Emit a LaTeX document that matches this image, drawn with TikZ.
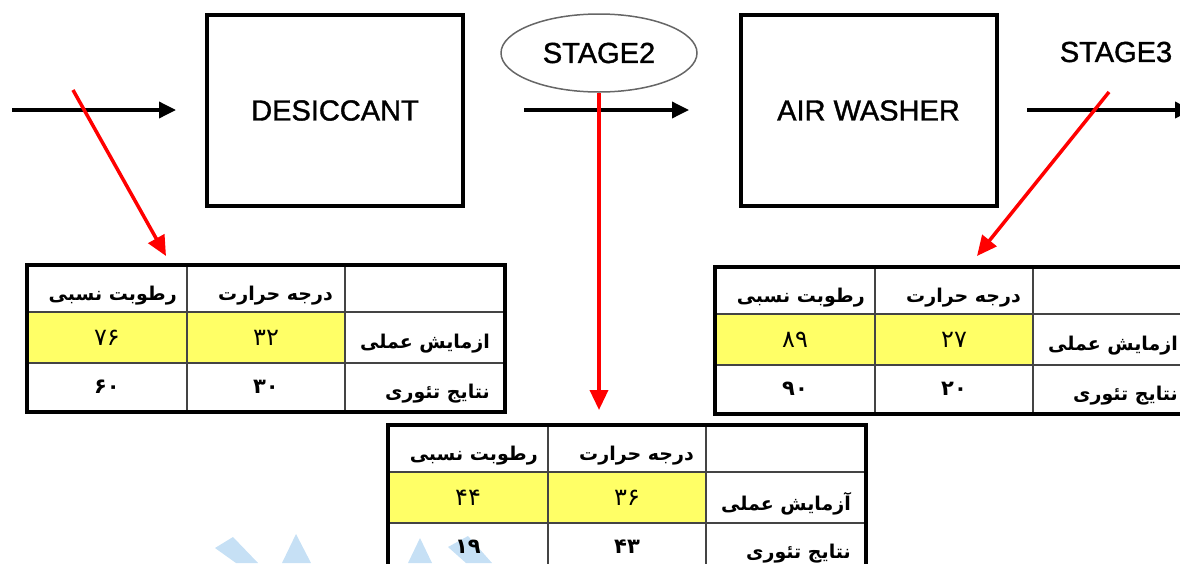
\documentclass[tikz,border=0pt]{standalone}
\usepackage{fontspec}
\setmainfont{Liberation Sans}
\newfontfamily\lblfont[FakeBold=1.3]{Liberation Sans}
\newfontfamily\arabicfont[Script=Arabic]{DejaVu Sans}
\TeXXeTstate=1
\usetikzlibrary{arrows.meta,shapes.geometric}
\definecolor{cellyellow}{HTML}{FFFF66}
\definecolor{wmblue}{HTML}{C6E0F5}
\definecolor{gridgray}{HTML}{444444}
\tikzset{
  procbox/.style={draw, line width=4pt, minimum width=256pt, minimum height=191pt, inner sep=0pt, font=\lblfont\fontsize{29}{32}\selectfont},
  stagelbl/.style={font=\lblfont\fontsize{29}{32}\selectfont, inner sep=0pt},
  flow/.style={line width=3.5pt, -{Triangle[length=17pt,width=16pt]}},
  probe/.style={red, line width=3.5pt, -{Triangle[length=20pt,width=18pt]}},
  gridline/.style={gridgray, line width=2pt},
  outerline/.style={black, line width=3.5pt},
  fatxt/.style={font=\arabicfont\bfseries\fontsize{19}{21}\selectfont, inner sep=0pt},
  numtxt/.style={font=\arabicfont\fontsize{24}{26}\selectfont, inner sep=0pt},
  numbold/.style={font=\arabicfont\bfseries\fontsize{21}{23}\selectfont, inner sep=0pt},
  wm/.style={fill=wmblue, draw=none}
}
% #1 name, #2 x0, #3 y0, #4 row label, #5 hum exp, #6 temp exp, #7 hum theo, #8 temp theo
\newcommand\ptab[8]{%
  \begin{scope}[shift={(#2,#3)}]
    \fill[cellyellow] (0,47) rectangle (318,98);
    \draw[gridline] (160,0) -- (160,147) (318,0) -- (318,147) (0,47) -- (478,47) (0,98) -- (478,98);
    \draw[outerline] (0,0) rectangle (478,147);
    \node[fatxt, anchor=east] (#1h1) at (150,31) {\beginR رطوبت نسبی\endR};
    \node[fatxt, anchor=east] (#1h2) at (306,31) {\beginR درجه حرارت\endR};
    \node[fatxt, anchor=east] (#1r1) at (463,79) {\beginR #4\endR};
    \node[fatxt, anchor=east] (#1r2) at (463,129) {\beginR نتایج تئوری\endR};
    \node[numtxt] (#1a) at (80,73) {#5};
    \node[numtxt] (#1b) at (239,73) {#6};
    \node[numbold] (#1c) at (80,122) {#7};
    \node[numbold] (#1d) at (239,122) {#8};
  \end{scope}}
\begin{document}
\begin{tikzpicture}[x=1pt,y=-1pt]
\useasboundingbox (0,0) rectangle (1180,563);
\clip (0,0) rectangle (1180,563);
% watermark fragments (faint, behind everything)
\fill[wm] (215,548) -- (233,537) -- (258,563) -- (236,563) -- cycle;
\fill[wm] (282,563) -- (296,534) -- (311,563) -- cycle;
\fill[wm] (408,563) -- (420,538) -- (432,563) -- cycle;
\fill[wm] (448,547) -- (468,536) -- (492,563) -- (466,563) -- cycle;
% process boxes
\node[procbox] (desc) at (335,110.5) {DESICCANT};
\node[procbox] (aw) at (868.5,110.5) {AIR WASHER};
\node[stagelbl, draw=gray!80!black, line width=1.5pt, ellipse, minimum width=196pt, minimum height=78pt] (st2) at (599,53) {STAGE2};
\node[stagelbl] (st3) at (1116,52) {STAGE3};
% flow arrows
\coordinate (f1s) at (12,110);
\coordinate (f1e) at (176,110);
\coordinate (f2s) at (524,110);
\coordinate (f2e) at (689,110);
\coordinate (f3s) at (1027,110);
\coordinate (f3e) at (1192,110);
\draw[flow] (f1s) -- (f1e);
\draw[flow] (f2s) -- (f2e);
\draw[flow] (f3s) -- (f3e);
% tables
\ptab{ta}{27}{265}{\beginR ازمایش عملی\endR}{۷۶}{۳۲}{۶۰}{۳۰}
\ptab{tc}{715}{267}{\beginR ازمایش عملی\endR}{۸۹}{۲۷}{۹۰}{۲۰}
\ptab{tb}{388}{425}{\beginR آزمایش عملی\endR}{۴۴}{۳۶}{۱۹}{۴۳}
% red probe arrows
\coordinate (p1s) at (73,90);
\coordinate (p1e) at (166,256);
\coordinate (p2e) at (599,410);
\coordinate (p3s) at (1109,92);
\coordinate (p3e) at (977,256);
\draw[probe] (p1s) -- (p1e);
\draw[probe] (st2.south) -- (p2e);
\draw[probe] (p3s) -- (p3e);
\end{tikzpicture}
\end{document}
